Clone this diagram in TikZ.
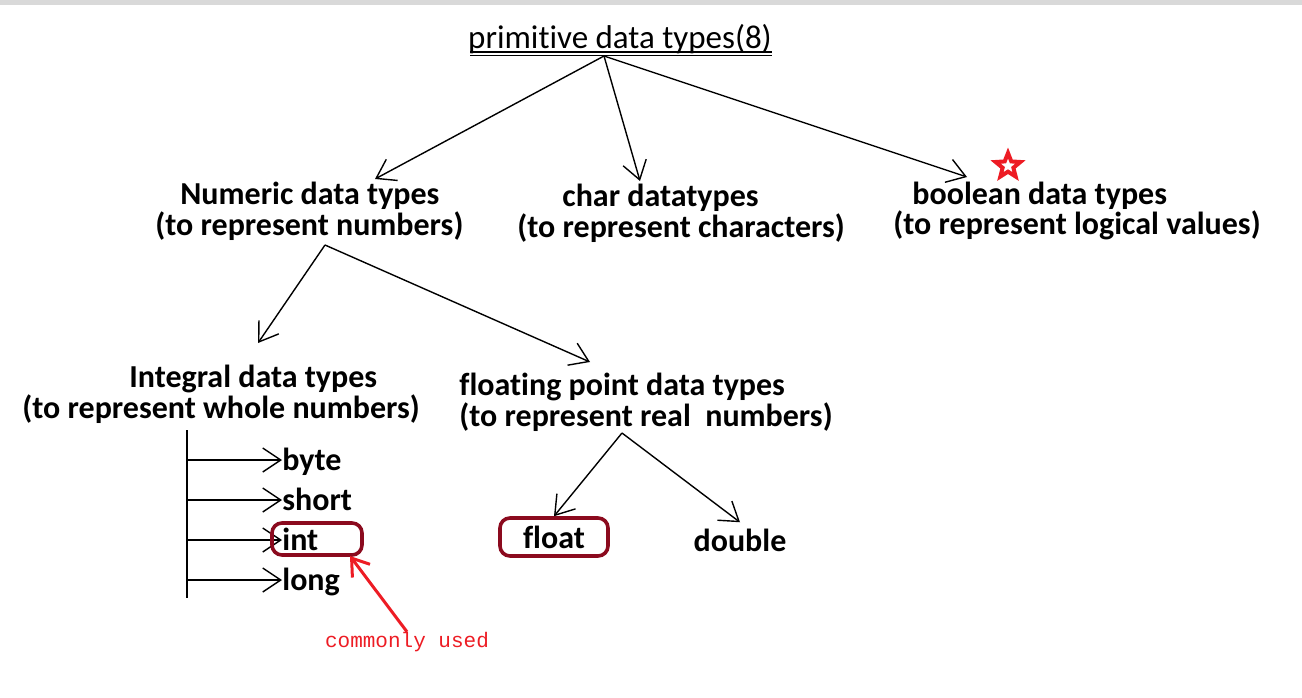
\documentclass[tikz,border=0pt]{standalone}
\usepackage{fontspec}
\setmainfont{Carlito}[Ligatures=NoCommon]
\newfontfamily\notefont{Liberation Mono}
\usetikzlibrary{arrows.meta,shapes.geometric}

\definecolor{boxred}{HTML}{8B0A1E}
\definecolor{notered}{HTML}{ED1C24}

\tikzset{
  branch/.style={-{Straight Barb[length=9pt,width=12pt,line width=0.7pt]}, line width=0.7pt},
  typebox/.style={font=\bfseries\fontsize{16}{14}\selectfont, align=left, anchor=west, inner sep=0pt},
  leaf/.style={font=\bfseries\fontsize{16}{14}\selectfont, inner sep=0pt, anchor=west,
    text height=10pt, text depth=0pt},
  hilite/.style={draw=boxred, line width=1.8pt, rounded corners=5pt}
}

\begin{document}
\begin{tikzpicture}[x=0.5pt,y=-0.5pt]
\useasboundingbox (0,0) rectangle (1302,697);
\fill[gray!30] (0,0) rectangle (1302,5);

% root
\node[inner sep=0pt, anchor=base, font=\fontsize{16.5}{14}\selectfont] (title) at (620,48) {primitive data types(8)};
\draw[line width=1.1pt] (470,52) -- (772,52);
\draw[line width=0.5pt] (470,55.5) -- (772,55.5);
\coordinate (fork) at (604,56);

% first level
\node[typebox] (numeric) at (155,211) {\hspace*{12.5pt}Numeric data types\\(to represent numbers)};
\node[typebox] (chr) at (517,213) {\hspace*{22.5pt}char datatypes\\(to represent characters)};
\node[typebox] (bool) at (893,211) {\hspace*{9.5pt}boolean data types\\(to represent logical values)};
\node[star, star points=5, star point ratio=2.3, draw=notered, line width=2pt,
  minimum size=13pt, inner sep=0pt] (starmark) at (1008,166) {};

\coordinate (numtip) at (375,179);
\coordinate (chrtip) at (640,181);
\coordinate (booltip) at (967,177);
\draw[branch] (fork) -- (numtip);
\draw[branch] (fork) -- (chrtip);
\draw[branch] (fork) -- (booltip);

% second level
\node[typebox] (integral) at (22,394) {\hspace*{53.5pt}Integral data types\\(to represent whole numbers)};
\node[typebox] (floating) at (459,402) {floating point data types\\(to represent real\ \ numbers)};
\coordinate (numfork) at (325,245);
\coordinate (inttypetip) at (258,343);
\coordinate (floattypetip) at (590,362);
\draw[branch] (numfork) -- (inttypetip);
\draw[branch] (numfork) -- (floattypetip);

% integral types
\coordinate (trunktop) at (187,430);
\coordinate (trunkbot) at (187,598);
\draw[line width=1pt] (trunktop) -- (trunkbot);
\foreach \name/\yy in {byte/460, short/500, int/540, long/580} {
  \node[leaf] (\name) at (282,\yy) {\name};
  \draw[branch] (trunktop |- \name.west) -- (\name.west);
}
\node[hilite, minimum width=45pt, minimum height=16pt] (intbox) at (317,539) {};

% floating types
\coordinate (flfork) at (622,433);
\node[typebox, anchor=center, hilite, minimum width=54pt, minimum height=19pt] (float) at (554,537) {float};
\node[typebox, anchor=center] (double) at (740,540) {double};
\draw[branch] (flfork) -- (float.north);
\draw[branch] (flfork) -- ([yshift=3pt]double.north);

% note
\node[inner sep=0pt, text=notered, font=\notefont\fontsize{10.5}{10.5}\selectfont] (note) at (407,642) {commonly used};
\coordinate (notetip) at (350,556);
\draw[-{Straight Barb[length=8pt,width=11pt,line width=1.5pt]}, line width=1.5pt, notered] (note.north) -- (notetip);
\end{tikzpicture}
\end{document}
